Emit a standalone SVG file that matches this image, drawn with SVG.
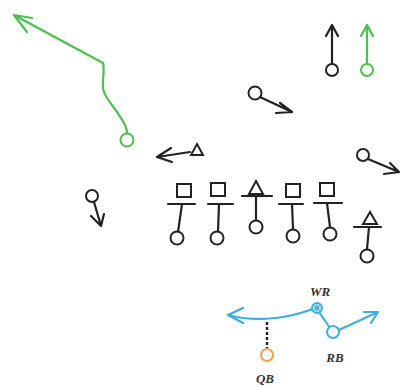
<svg xmlns="http://www.w3.org/2000/svg" width="403" height="386" viewBox="0 0 403 386">
<style>
.k{fill:none;stroke:#222;stroke-width:2.2;stroke-linecap:round;stroke-linejoin:round}
.o{fill:#fff;stroke:#222;stroke-width:2}
.g{fill:none;stroke:#4cbf4c;stroke-width:2.2;stroke-linecap:round;stroke-linejoin:round}
.go{fill:#fff;stroke:#4cbf4c;stroke-width:2}
.c{fill:none;stroke:#3aafe0;stroke-width:2.2;stroke-linecap:round;stroke-linejoin:round}
.co{fill:#fff;stroke:#3aafe0;stroke-width:2}
.lbl{font-family:"Liberation Serif",serif;font-weight:bold;font-style:italic;font-size:13px;fill:#333;text-anchor:middle}
</style>
<rect width="403" height="386" fill="#fff"/>
<g id="connectors">
  <path class="g" d="M127,133 C127,124 121,119 117,112 C111,103 104,97 103,88 C102,80 105,72 103,63 L14,15 M14,15 L32,18 M14,15 L27,32"/>
  <path class="k" d="M332,64 L332,25 M326,36 L332,25 L338,36"/>
  <path class="g" d="M367,64 L367,25 M361,36 L367,25 L373,36"/>
  <path class="k" d="M260,97 L292,112 M280,103 L292,112 L276,113"/>
  <path class="k" d="M368,159 L399,172 M390,163 L399,172 L384,174"/>
  <path class="k" d="M190,152 L157,157 M171,148 L157,157 L172,162"/>
  <path class="k" d="M94,202 L101,226 M91,216 L101,226 L104,214"/>
  <path class="c" d="M228,315 C250,321 280,321 313,309 M243,308 L228,315 L243,323"/>
  <path class="c" d="M319,312 L330,328 M339,330 L378,312 M364,312 L378,312 L371,323"/>
  <path d="M267,322 L267,348" fill="none" stroke="#222" stroke-width="2.4" stroke-dasharray="3,2"/>
</g>
<g id="green-receiver"><circle class="go" cx="127" cy="140" r="6.5"/></g>
<g id="top-receiver"><circle class="o" cx="332" cy="70" r="6"/></g>
<g id="top-green-receiver"><circle class="go" cx="367" cy="70" r="6"/></g>
<g id="slot-receiver"><circle class="o" cx="255" cy="93" r="6.5"/></g>
<g id="right-receiver"><circle class="o" cx="363" cy="155" r="6"/></g>
<g id="left-back"><circle class="o" cx="92" cy="196" r="6"/></g>
<g id="defender-triangle"><path class="o" d="M197,144 L203,155 L191,155 Z"/></g>
<g id="lineman1">
  <rect class="o" x="177" y="184" width="14" height="13"/>
  <path class="k" d="M168,204 L195,204 M182,204 L178,232"/>
  <circle class="o" cx="177" cy="238" r="6.5"/>
</g>
<g id="lineman2">
  <rect class="o" x="211" y="183" width="14" height="13"/>
  <path class="k" d="M208,204 L233,204 M219,204 L218,231"/>
  <circle class="o" cx="217" cy="238" r="6.5"/>
</g>
<g id="lineman3">
  <path class="o" d="M256,181 L263,194 L249,194 Z"/>
  <path class="k" d="M242,196 L272,196 M256,196 L256,220"/>
  <circle class="o" cx="256" cy="227" r="6.5"/>
</g>
<g id="lineman4">
  <rect class="o" x="286" y="184" width="14" height="13"/>
  <path class="k" d="M279,204 L303,204 M292,204 L293,229"/>
  <circle class="o" cx="293" cy="236" r="6.5"/>
</g>
<g id="lineman5">
  <rect class="o" x="320" y="183" width="14" height="13"/>
  <path class="k" d="M314,203 L342,203 M327,203 L330,227"/>
  <circle class="o" cx="330" cy="234" r="6.5"/>
</g>
<g id="lineman6">
  <path class="o" d="M370,212 L377,224 L363,224 Z"/>
  <path class="k" d="M354,227 L381,227 M369,227 L367,249"/>
  <circle class="o" cx="367" cy="256" r="6.5"/>
</g>
<g id="wr">
  <circle class="co" cx="317" cy="308" r="5"/>
  <path d="M313.5,304.5 L320.5,311.5 M320.5,304.5 L313.5,311.5 M317,303 L317,313 M312,308 L322,308" stroke="#3aafe0" stroke-width="1.2"/>
  <text class="lbl" x="320" y="296">WR</text>
</g>
<g id="rb">
  <circle class="co" cx="333" cy="332" r="6"/>
  <text class="lbl" x="335" y="362">RB</text>
</g>
<g id="qb">
  <circle fill="#fff" stroke="#f0a050" stroke-width="2" cx="267" cy="355" r="6"/>
  <text class="lbl" x="265" y="383">QB</text>
</g>
</svg>
